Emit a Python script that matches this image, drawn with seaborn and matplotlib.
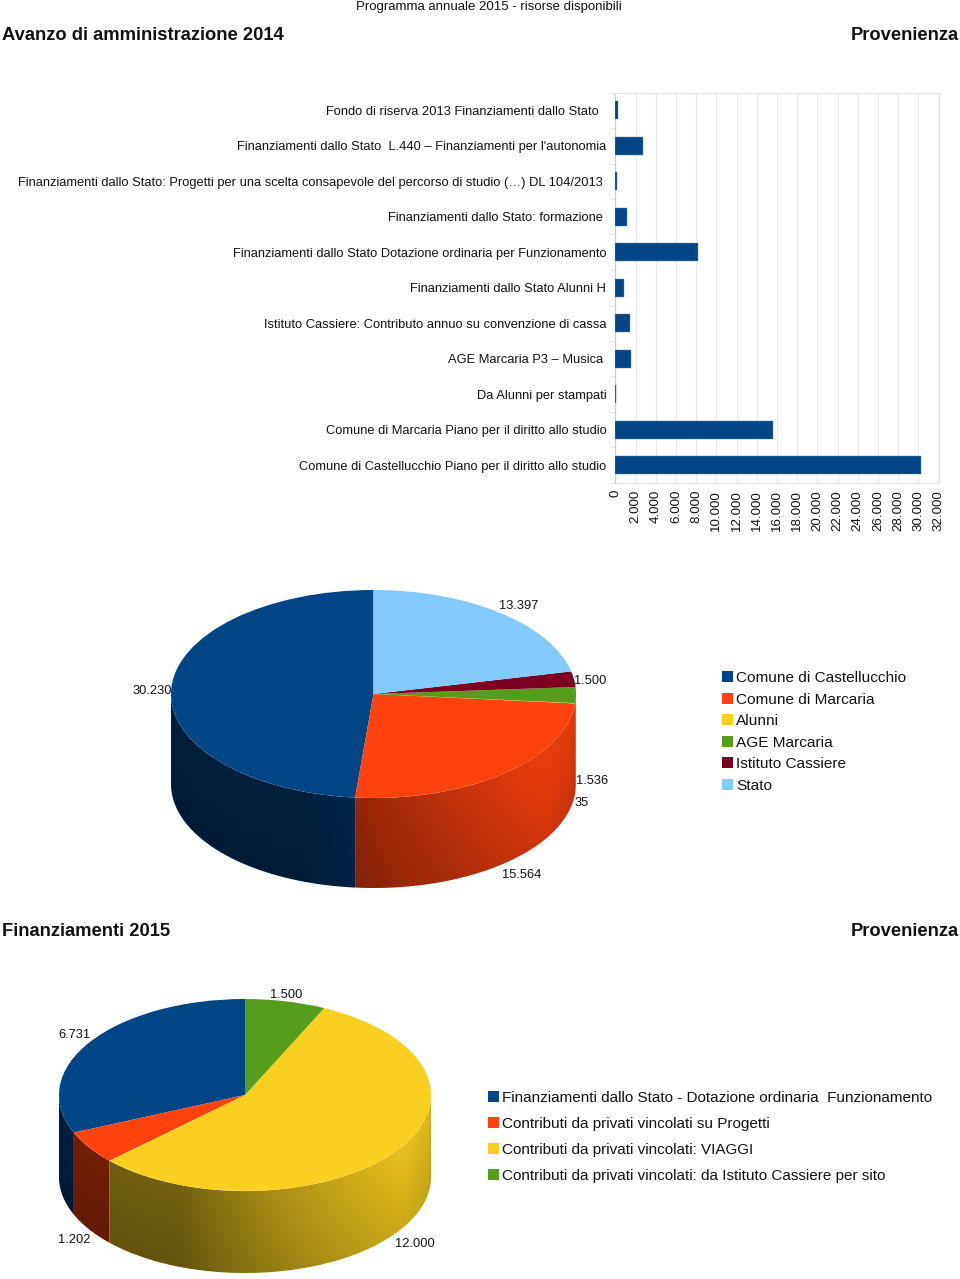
import numpy as np
import pandas as pd
import matplotlib
matplotlib.use("Agg")
import matplotlib.pyplot as plt
from matplotlib.colors import to_rgb
from matplotlib.patches import Patch, Polygon
import seaborn as sns

# ---------------------------
# Data
# ---------------------------
voci = [
    "Fondo di riserva 2013 Finanziamenti dallo Stato  ",
    "Finanziamenti dallo Stato  L.440 – Finanziamenti per l'autonomia",
    "Finanziamenti dallo Stato: Progetti per una scelta consapevole del percorso di studio (…) DL 104/2013 ",
    "Finanziamenti dallo Stato: formazione ",
    "Finanziamenti dallo Stato Dotazione ordinaria per Funzionamento",
    "Finanziamenti dallo Stato Alunni H",
    "Istituto Cassiere: Contributo annuo su convenzione di cassa",
    "AGE Marcaria P3 – Musica ",
    "Da Alunni per stampati",
    "Comune di Marcaria Piano per il diritto allo studio",
    "Comune di Castellucchio Piano per il diritto allo studio",
]
importi = [300, 2700, 150, 1200, 8150, 897, 1500, 1536, 35, 15564, 30230]

provenienze_2014 = ["Comune di Castellucchio", "Comune di Marcaria", "Alunni",
                    "AGE Marcaria", "Istituto Cassiere", "Stato"]
valori_2014 = [30230, 15564, 35, 1536, 1500, 13397]

provenienze_2015 = ["Finanziamenti dallo Stato - Dotazione ordinaria  Funzionamento",
                    "Contributi da privati vincolati su Progetti",
                    "Contributi da privati vincolati: VIAGGI",
                    "Contributi da privati vincolati: da Istituto Cassiere per sito"]
valori_2015 = [6731, 1202, 12000, 1500]

colori = ["#004586", "#ff420e", "#f9d01f", "#579d1c", "#7e0021", "#83caff"]

W, H = 960, 1279

sns.set_theme(style="whitegrid")
plt.rcParams["font.family"] = ["Liberation Sans", "DejaVu Sans"]
plt.rcParams["text.color"] = "#111111"
plt.rcParams["xtick.color"] = "#111111"
plt.rcParams["ytick.color"] = "#111111"

fig = plt.figure(figsize=(W / 100, H / 100), dpi=100, facecolor="white")


def box(x0, y0, x1, y1):
    # pixel box of the picture -> figure fractions
    return [x0 / W, 1 - y1 / H, (x1 - x0) / W, (y1 - y0) / H]


def scritta(x, y, testo, size=9.24, ha="center", weight="normal"):
    fig.text(x / W, 1 - y / H, testo, fontsize=size, ha=ha, va="center", fontweight=weight)


def etichetta(v):
    return f"{v:,}".replace(",", ".")


# ---------------------------
# Titles
# ---------------------------
scritta(489, 7, "Programma annuale 2015 - risorse disponibili", size=9.55)
scritta(2, 36, "Avanzo di amministrazione 2014", size=13.2, ha="left", weight="bold")
scritta(959, 36, "Provenienza", size=13.2, ha="right", weight="bold")
scritta(2, 932, "Finanziamenti 2015", size=13.2, ha="left", weight="bold")
scritta(959, 932, "Provenienza", size=13.2, ha="right", weight="bold")

# ---------------------------
# Bar chart
# ---------------------------
df = pd.DataFrame({"voce": voci, "importo": importi})
ax = fig.add_axes(box(615.3, 92.5, 938.7, 483))
sns.barplot(data=df, y="voce", x="importo", color=colori[0], saturation=1,
            width=0.5, ax=ax, zorder=3, edgecolor="#5b8fb5", linewidth=0.3)
ax.set_xlim(0, 32000)
ax.set_xlabel("")
ax.set_ylabel("")
ax.set_xticks(np.arange(0, 32001, 2000))
ax.set_xticklabels([etichetta(v) for v in range(0, 32001, 2000)], rotation=90, fontsize=9.6)
ax.tick_params(axis="x", length=3, width=0.7, color="#d0d0d0", pad=2)
ax.tick_params(axis="y", which="major", length=0, pad=6.5, labelsize=9.24)
ax.set_yticks(np.arange(len(voci) + 1) - 0.5, minor=True)
ax.tick_params(axis="y", which="minor", length=3, width=0.7, color="#dcdcdc", left=True)
ax.grid(axis="x", color="#e8e8e8", lw=0.9)
ax.grid(axis="y", visible=False)
for s in ax.spines.values():
    s.set_color("#e4e4e4")
    s.set_linewidth(0.9)
ax.spines["left"].set_color("#cccccc")


# ---------------------------
# 3D looking pies
# ---------------------------
def torta(cx, cy, rx, ry, spessore, valori):
    depth = spessore / ry
    a = fig.add_axes(box(cx - rx - 2, cy - ry - 2, cx + rx + 2, cy + ry + spessore + 2))
    wedges, _ = a.pie(valori, colors=colori[:len(valori)], startangle=90, counterclock=True,
                      radius=1, wedgeprops={"linewidth": 0, "zorder": 5})

    # side shading: dark on the left, light on the right, a bit darker going down
    xs = np.linspace(-1, 1, 400)
    ys = np.linspace(-1 - depth, 0, 200)
    X, Y = np.meshgrid(xs, ys)
    bordo = -np.sqrt(1 - X ** 2)
    zm = np.clip((bordo - Y) / depth, 0, 1)
    luce = np.interp(X, [-1, -0.35, 0.1, 0.5, 0.85, 1], [.45, .46, .66, .8, .93, .88])
    shade = luce * (1 - 0.12 * zm)

    for w in wedges:
        t0, t1 = max(w.theta1, 180), min(w.theta2, 360)
        if t1 <= t0:
            continue
        t = np.radians(np.linspace(t0, t1, 120))
        sopra = np.column_stack([np.cos(t), np.sin(t)])
        sotto = (sopra - [0, depth])[::-1]
        C = shade[:, :, None] * np.array(to_rgb(w.get_facecolor()))
        im = a.imshow(C, extent=(-1, 1, -1 - depth, 0), origin="lower", aspect="auto",
                      interpolation="bilinear", zorder=2)
        im.set_clip_path(Polygon(np.vstack([sopra, sotto]), transform=a.transData))

    a.set_aspect("auto")
    a.set_xlim(-1 - 2 / rx, 1 + 2 / rx)
    a.set_ylim(-1 - depth - 2 / ry, 1 + 2 / ry)
    a.axis("off")


torta(373.5, 694, 202.5, 104, 90, valori_2014)
torta(245, 1095, 186, 96, 82, valori_2015)

for (x, y), v in zip([(152, 691), (522, 875), (582, 803), (592, 781), (590, 681), (519, 606)], valori_2014):
    scritta(x, y, etichetta(v))
for (x, y), v in zip([(74, 1035), (74, 1240), (415, 1244), (286, 995)], valori_2015):
    scritta(x, y, etichetta(v))


# ---------------------------
# Legends
# ---------------------------
def legenda(x, y, nomi, size, spazio):
    maniglie = [Patch(facecolor=c, edgecolor="none", label=n) for c, n in zip(colori, nomi)]
    fig.legend(handles=maniglie, loc="upper left", bbox_to_anchor=(x / W, 1 - y / H),
               frameon=False, fontsize=size, labelspacing=spazio, handlelength=0.72,
               handleheight=0.72, handletextpad=0.2, borderpad=0, borderaxespad=0)


legenda(722, 671, provenienze_2014, 11.07, 0.49)
legenda(488, 1090.5, provenienze_2015, 11.0, 0.8)

fig.savefig("out.png", dpi=100, facecolor="white")
